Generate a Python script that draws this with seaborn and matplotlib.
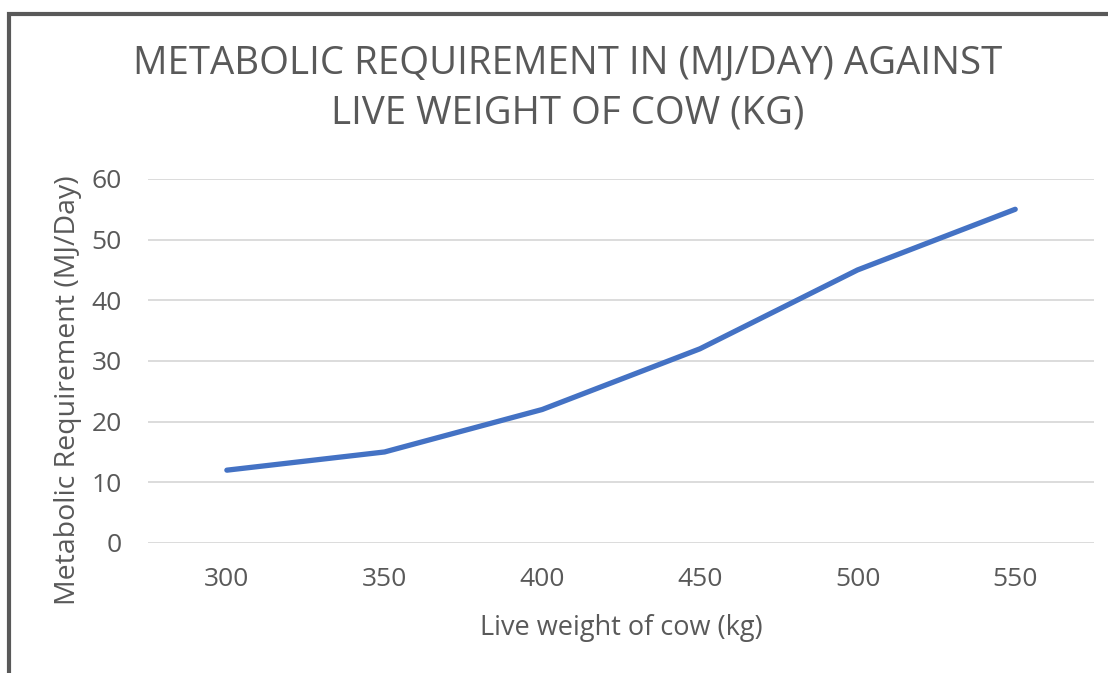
import matplotlib
matplotlib.use("Agg")
import matplotlib.pyplot as plt
import seaborn as sns
import pandas as pd
from matplotlib.patches import Rectangle

# values
weights = [300, 350, 400, 450, 500, 550]
requirement = [12, 15, 22, 32, 45, 55]
y_ticks = [0, 10, 20, 30, 40, 50, 60]

df = pd.DataFrame({"weight": weights, "req": requirement})

sns.set_style("white")
plt.rcParams["font.family"] = ["Open Sans", "DejaVu Sans"]
text_col = "#595959"

fig = plt.figure(figsize=(11.08, 6.73), dpi=100)
ax = fig.add_axes([0.1336, 0.1932, 0.8538, 0.5409])

sns.lineplot(data=df, x="weight", y="req", ax=ax, color="#4472c4",
             linewidth=3.8, solid_capstyle="round", solid_joinstyle="round")

ax.set_xlim(275, 575)
ax.set_ylim(0, 60)
ax.set_xticks(weights)
ax.set_yticks(y_ticks)
ax.yaxis.grid(True, color="#d9d9d9", linewidth=1.3)
ax.set_axisbelow(True)
for s in ax.spines.values():
    s.set_visible(False)
ax.tick_params(axis="both", length=0, labelsize=19, labelcolor=text_col)
ax.tick_params(axis="y", pad=19)
ax.tick_params(axis="x", pad=17)

ax.set_xlabel("Live weight of cow (kg)", fontsize=19.5, color=text_col)
ax.set_ylabel("Metabolic Requirement (MJ/Day)", fontsize=20.5, color=text_col)
ax.xaxis.set_label_coords(0.5, -0.2335)
ax.yaxis.set_label_coords(-0.0847, 0.42)
ax.xaxis.label.set_va("center")
ax.yaxis.label.set_va("center")

fig.text(0.512, 0.8685, "METABOLIC REQUIREMENT IN (MJ/DAY) AGAINST\nLIVE WEIGHT OF COW (KG)",
         ha="center", va="center", fontsize=27.6, color=text_col, linespacing=1.41)

# frame around the chart (right and bottom edges fall outside the image)
fig.patches.append(Rectangle((9 / 1108, -0.2), 1.3, 1.2 - 14 / 673,
                             transform=fig.transFigure, fill=False,
                             edgecolor="#595959", linewidth=3))

fig.savefig("out.png", dpi=100)
